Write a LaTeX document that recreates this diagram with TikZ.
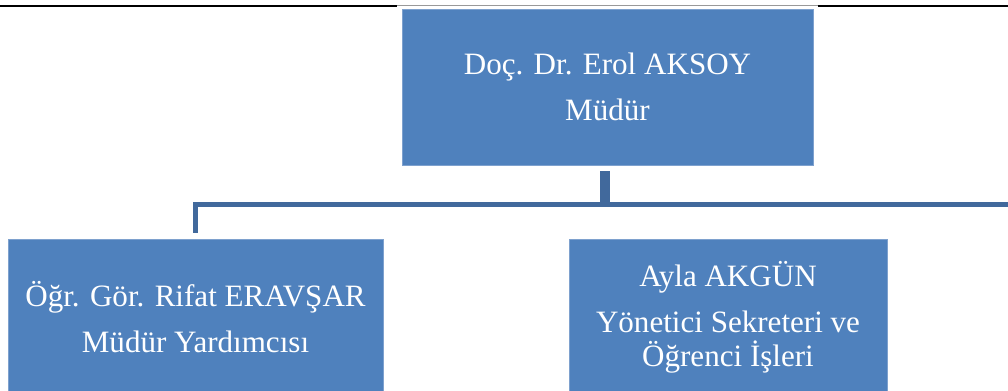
\documentclass[tikz,border=0pt]{standalone}
\usepackage{fontspec}
\setmainfont{Liberation Serif}
\definecolor{boxblue}{HTML}{4F81BD}
\definecolor{boxedge}{HTML}{7EA1CE}
\definecolor{linkblue}{HTML}{41699C}
\tikzset{
  unit/.style={rectangle, fill=boxblue, draw=boxedge, line width=0.6pt,
    text=white, align=center, inner sep=0pt,
    font=\fontsize{23.3}{35}\selectfont},
  link/.style={draw=linkblue, line width=3.75pt},
}
\begin{document}
\begin{tikzpicture}[x=0.75pt,y=-0.75pt]
      \useasboundingbox (0,0) rectangle (1008,390);
      \draw[black, line width=1.5pt] (0,5.5) -- (397,5.5) (818,5.5) -- (1008,5.5);
      \draw[black!40, line width=0.5pt] (397,5) -- (818,5);
      \node[unit, minimum width=308.25pt, minimum height=117pt] (mudur)
        at (607.5,87) {Doç. Dr. Erol AKSOY\\Müdür};
      \node[unit, minimum width=281.25pt, minimum height=117pt] (yardimci)
        at (195.5,317) {Öğr. Gör. Rifat ERAVŞAR\\Müdür Yardımcısı};
      \node[unit, minimum width=238.5pt, minimum height=117pt] (sekreter)
        at (728,317) {Ayla AKGÜN\\Yönetici Sekreteri ve\\[-10pt]Öğrenci İşleri};
      \coordinate (disari) at (1008,204);
      \begin{scope}[link]
        \draw[shorten <=4.5pt, shorten >=4.5pt] ([xshift=-3.4pt]mudur.south)
          -- ([xshift=-3.4pt]mudur.south |- disari) -| (yardimci.north);
        \draw[shorten <=4.5pt] ([xshift=0.3pt]mudur.south)
          -- ([xshift=0.3pt]mudur.south |- disari) -- (disari);
      \end{scope}
    \end{tikzpicture}
\end{document}
